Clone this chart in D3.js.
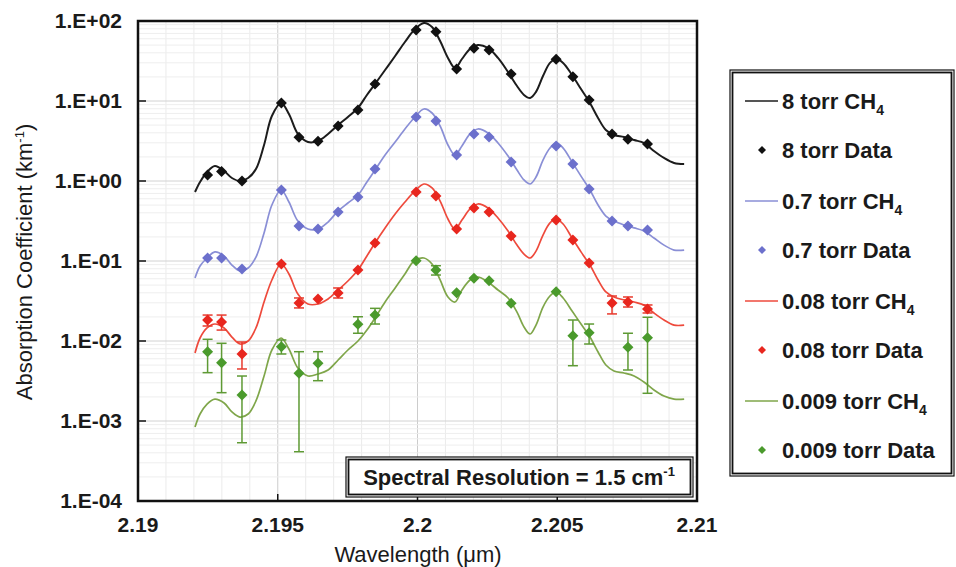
<!DOCTYPE html>
<html>
<head>
<meta charset="utf-8">
<title>CH4 absorption</title>
<script src="https://cdn.jsdelivr.net/npm/d3@7"></script>
<style>
  body { margin: 0; background: #fff; }
  svg text { font-family: "Liberation Sans", Arial, sans-serif; fill: #1a1a1a; }
  .tick-label { font-size: 21px; font-weight: bold; }
  .legend-label { font-size: 22px; font-weight: bold; }
  .axis-title { font-size: 22px; }
</style>
</head>
<body>
<script>
// model curves, wavelength in um
var wavelength = [2.19204, 2.19222, 2.19247, 2.19275, 2.19308, 2.19336, 2.19365, 2.19394, 2.19422, 2.19451,
  2.19479, 2.19512, 2.19540, 2.19572, 2.19608, 2.19644, 2.19680, 2.19716, 2.19751, 2.19787,
  2.19819, 2.19848, 2.19884, 2.19920, 2.19955, 2.19988, 2.20023, 2.20052, 2.20081, 2.20109,
  2.20134, 2.20159, 2.20188, 2.20216, 2.20252, 2.20288, 2.20324, 2.20356, 2.20381, 2.20403,
  2.20424, 2.20449, 2.20474, 2.20496, 2.20521, 2.20553, 2.20585, 2.20617, 2.20646, 2.20674,
  2.20703, 2.20739, 2.20775, 2.20810, 2.20846, 2.20882, 2.20918, 2.20954];

var model8 = [0.729, 0.972, 1.296, 1.54, 1.334, 1.09, 1.0, 1.09, 1.41, 2.82,
  6.49, 9.44, 6.88, 3.87, 3.07, 3.16, 3.87, 5.01, 6.31, 8.18,
  11.9, 16.3, 24.4, 36.5, 54.6, 77.2, 94.4, 84.1, 56.2, 34.5,
  25.8, 33.5, 44.7, 50.1, 46.0, 34.5, 23.0, 15.4, 11.9, 10.9,
  13.0, 20.5, 29.9, 33.5, 29.9, 21.1, 14.1, 9.44, 6.13, 4.34,
  3.76, 3.55, 3.25, 2.99, 2.37, 1.94, 1.68, 1.63];

var model07 = [0.0613, 0.0866, 0.109, 0.130, 0.1155, 0.0891, 0.075, 0.0818, 0.112, 0.224,
  0.501, 0.772, 0.546, 0.316, 0.251, 0.251, 0.307, 0.422, 0.531, 0.668,
  0.972, 1.37, 2.11, 3.07, 4.47, 6.13, 7.94, 7.08, 4.87, 2.82,
  2.11, 2.74, 3.87, 4.47, 3.98, 2.99, 2.05, 1.37, 1.03, 0.917,
  1.12, 1.83, 2.58, 2.99, 2.58, 1.73, 1.15, 0.772, 0.501, 0.365,
  0.316, 0.282, 0.259, 0.237, 0.194, 0.158, 0.137, 0.137];

var model008 = [0.00708, 0.0109, 0.01455, 0.0163, 0.01455, 0.0112, 0.00917, 0.0100, 0.01455, 0.0307,
  0.0579, 0.0917, 0.0688, 0.0387, 0.0290, 0.0290, 0.0335, 0.0434, 0.0562, 0.0772,
  0.1155, 0.168, 0.259, 0.387, 0.546, 0.729, 0.917, 0.818, 0.562, 0.335,
  0.251, 0.325, 0.447, 0.516, 0.460, 0.345, 0.237, 0.158, 0.122, 0.109,
  0.133, 0.211, 0.299, 0.335, 0.290, 0.194, 0.130, 0.0891, 0.0579, 0.0410,
  0.0355, 0.0326, 0.0307, 0.0282, 0.0224, 0.0183, 0.0158, 0.0158];

var model0009 = [0.000841, 0.001223, 0.00163, 0.00188, 0.00168, 0.0013, 0.00112, 0.001223, 0.00178, 0.00365,
  0.00772, 0.0109, 0.00794, 0.0046, 0.00365, 0.00387, 0.00434, 0.00579, 0.00772, 0.0100,
  0.0137, 0.0194, 0.0307, 0.046, 0.0688, 0.100, 0.109, 0.0917, 0.0579, 0.0355,
  0.0307, 0.0434, 0.0579, 0.0631, 0.0546, 0.0434, 0.0345, 0.0230, 0.0150, 0.01223,
  0.0158, 0.0266, 0.0365, 0.0410, 0.0345, 0.0237, 0.0163, 0.0112, 0.00729, 0.00501,
  0.00422, 0.00398, 0.00365, 0.00307, 0.00244, 0.00205, 0.00188, 0.00188];

// measured points
var dataWavelength = [2.19249, 2.19299, 2.19372, 2.19513, 2.19576, 2.19644, 2.19716, 2.19787, 2.19848, 2.19995,
  2.20066, 2.20140, 2.20202, 2.20256, 2.20335, 2.20496, 2.20556, 2.20614, 2.20696, 2.20753, 2.20823];

var data8 = [1.19, 1.31, 1.00, 9.44, 3.52, 3.13, 4.87, 7.72, 16.3, 77.2,
  73.5, 25.1, 45.6, 43.4, 21.8, 33.2, 20.1, 10.3, 3.87, 3.32, 2.90];
var data07 = [0.109, 0.109, 0.0794, 0.772, 0.274, 0.251, 0.410, 0.631, 1.41, 6.31,
  5.62, 2.11, 3.87, 3.55, 1.73, 2.74, 1.63, 0.794, 0.316, 0.274, 0.244];
var data008 = [0.0183, 0.0173, 0.00688, 0.0917, 0.0299, 0.0335, 0.0398, 0.0772, 0.168, 0.729,
  0.649, 0.251, 0.460, 0.410, 0.205, 0.325, 0.183, 0.0944, 0.0299, 0.0307, 0.0251];
var err008Hi = [0.0211, 0.0211, 0.00972, null, 0.0345, null, 0.046, null, null, null,
  null, null, null, null, null, null, null, null, 0.0365, 0.0355, 0.0282];
var err008Lo = [0.0154, 0.0137, 0.00447, null, 0.0259, null, 0.0345, null, null, null,
  null, null, null, null, null, null, null, null, 0.0218, 0.0266, 0.0224];
var data0009 = [0.00735, 0.00535, 0.00211, 0.00849, 0.00395, 0.00526, null, 0.0162, 0.0211, 0.101,
  0.0772, 0.0402, 0.0608, 0.0567, 0.0296, 0.0413, 0.01165, 0.0127, null, 0.00834, 0.0110];
var err0009Hi = [0.0105, 0.00936, 0.00365, 0.0103, 0.00735, 0.00735, null, 0.0201, 0.0256, null,
  0.0873, null, null, null, null, null, 0.0183, 0.0163, null, 0.0125, 0.0198];
var err0009Lo = [0.00402, 0.00226, 0.000535, 0.00688, 0.000413, 0.00319, null, 0.0125, 0.0163, null,
  0.0668, null, null, null, null, null, 0.00491, 0.00917, null, 0.00434, 0.00222];

var xTicks = [2.19, 2.195, 2.2, 2.205, 2.21];
var xTickLabels = ["2.19", "2.195", "2.2", "2.205", "2.21"];
var yTicks = [1e2, 1e1, 1e0, 1e-1, 1e-2, 1e-3, 1e-4];
var yTickLabels = ["1.E+02", "1.E+01", "1.E+00", "1.E-01", "1.E-02", "1.E-03", "1.E-04"];

var seriesNames = ["8 torr", "0.7 torr", "0.08 torr", "0.009 torr"];
var lineColors = ["#1c1c1c", "#8a8fd6", "#ee4a3c", "#7fa64a"];
var dotColors = ["#111111", "#6c70cc", "#e8261e", "#4a9a2c"];

var width = 956, height = 567;
var svg = d3.select("body").append("svg")
  .attr("width", width)
  .attr("height", height);

var xScale = d3.scaleLinear().domain([2.19, 2.21]).range([138, 697]);
var yScale = d3.scaleLog().domain([1e-4, 1e2]).range([501, 21]);

// grid
var grid = svg.append("g");
d3.range(2.19, 2.2105, 0.001).forEach(function(w, i) {
  grid.append("line")
    .attr("x1", xScale(w)).attr("x2", xScale(w))
    .attr("y1", 21).attr("y2", 501)
    .attr("stroke", i % 5 == 0 ? "#cccccc" : "#ebebeb")
    .attr("stroke-width", 1);
});
yScale.ticks().forEach(function(v) {
  var major = Math.abs(Math.log10(v) - Math.round(Math.log10(v))) < 1e-6;
  grid.append("line")
    .attr("x1", 138).attr("x2", 697)
    .attr("y1", yScale(v)).attr("y2", yScale(v))
    .attr("stroke", major ? "#d2d2d2" : "#eeeeee")
    .attr("stroke-width", 1);
});

// model lines
var models = [model8, model07, model008, model0009];
var line = d3.line()
  .x(function(d) { return xScale(d[0]); })
  .y(function(d) { return yScale(d[1]); })
  .curve(d3.curveCatmullRom);

models.forEach(function(m, k) {
  svg.append("path")
    .datum(d3.zip(wavelength, m))
    .attr("fill", "none")
    .attr("stroke", lineColors[k])
    .attr("stroke-width", k == 0 ? 2 : 1.7)
    .attr("d", line);
});

// error bars
function drawErrors(vals, lo, hi, color) {
  var g = svg.append("g").attr("stroke", color).attr("stroke-width", 1.5);
  dataWavelength.forEach(function(w, i) {
    if (vals[i] == null || lo[i] == null) return;
    var x = xScale(w);
    g.append("line").attr("x1", x).attr("x2", x).attr("y1", yScale(lo[i])).attr("y2", yScale(hi[i]));
    g.append("line").attr("x1", x - 5).attr("x2", x + 5).attr("y1", yScale(lo[i])).attr("y2", yScale(lo[i]));
    g.append("line").attr("x1", x - 5).attr("x2", x + 5).attr("y1", yScale(hi[i])).attr("y2", yScale(hi[i]));
  });
}
drawErrors(data008, err008Lo, err008Hi, "#e8392c");
drawErrors(data0009, err0009Lo, err0009Hi, "#5e9a34");

// data diamonds
var diamond = function(r) { return "M0," + (-r) + "L" + r + ",0L0," + r + "L" + (-r) + ",0Z"; };
var datas = [data8, data07, data008, data0009];
datas.forEach(function(vals, k) {
  svg.append("g").selectAll("path")
    .data(d3.zip(dataWavelength, vals).filter(function(d) { return d[1] != null; }))
    .enter()
    .append("path")
    .attr("d", diamond(5.5))
    .attr("fill", dotColors[k])
    .attr("transform", function(d) { return "translate(" + xScale(d[0]) + "," + yScale(d[1]) + ")"; });
});

// frame + ticks
svg.append("rect")
  .attr("x", 138).attr("y", 21).attr("width", 559).attr("height", 480)
  .attr("fill", "none").attr("stroke", "#111").attr("stroke-width", 2.5);

yTicks.forEach(function(v, i) {
  svg.append("line")
    .attr("x1", 138).attr("x2", 146)
    .attr("y1", yScale(v)).attr("y2", yScale(v))
    .attr("stroke", "#111").attr("stroke-width", 1.5);
  svg.append("text")
    .attr("class", "tick-label")
    .attr("x", 122)
    .attr("y", yScale(v) + 7)
    .style("text-anchor", "end")
    .text(yTickLabels[i]);
});
xTicks.forEach(function(w, i) {
  svg.append("line")
    .attr("x1", xScale(w)).attr("x2", xScale(w))
    .attr("y1", 501).attr("y2", 494)
    .attr("stroke", "#111").attr("stroke-width", 1.5);
  svg.append("text")
    .attr("class", "tick-label")
    .attr("x", xScale(w))
    .attr("y", 532)
    .style("text-anchor", "middle")
    .text(xTickLabels[i]);
});

// axis titles
svg.append("text")
  .attr("class", "axis-title")
  .attr("x", 418).attr("y", 562)
  .style("text-anchor", "middle")
  .text("Wavelength (\u03bcm)");

var yt = svg.append("text")
  .attr("class", "axis-title")
  .attr("transform", "translate(32,262) rotate(-90)")
  .style("text-anchor", "middle");
yt.append("tspan").text("Absorption Coefficient (km");
yt.append("tspan").attr("dy", -8).style("font-size", "13px").text("-1");
yt.append("tspan").attr("dy", 8).text(")");

// spectral resolution box
svg.append("rect")
  .attr("x", 346).attr("y", 457).attr("width", 347).attr("height", 40)
  .attr("fill", "#fff").attr("stroke", "#111").attr("stroke-width", 1.2);
svg.append("rect")
  .attr("x", 348.5).attr("y", 459.5).attr("width", 342).attr("height", 35)
  .attr("fill", "none").attr("stroke", "#111").attr("stroke-width", 1.8);
var sr = svg.append("text")
  .attr("class", "legend-label")
  .attr("x", 519).attr("y", 485)
  .style("text-anchor", "middle");
sr.append("tspan").text("Spectral Resolution = 1.5 cm");
sr.append("tspan").attr("dy", -9).style("font-size", "13px").text("-1");

// legend
svg.append("rect")
  .attr("x", 730).attr("y", 70).attr("width", 224).attr("height", 406)
  .attr("fill", "#fff").attr("stroke", "#111").attr("stroke-width", 1.2);
svg.append("rect")
  .attr("x", 732.5).attr("y", 72.5).attr("width", 219).attr("height", 401)
  .attr("fill", "none").attr("stroke", "#111").attr("stroke-width", 1.8);

seriesNames.forEach(function(name, k) {
  var yl = 101 + k * 100;
  var yd = yl + 49;
  svg.append("line")
    .attr("x1", 745).attr("x2", 778)
    .attr("y1", yl).attr("y2", yl)
    .attr("stroke", lineColors[k]).attr("stroke-width", 1.5);
  var t = svg.append("text").attr("class", "legend-label").attr("x", 782).attr("y", yl + 8);
  t.append("tspan").text(name + " CH");
  t.append("tspan").attr("dy", 6).style("font-size", "14px").text("4");

  svg.append("path")
    .attr("d", diamond(4))
    .attr("fill", dotColors[k])
    .attr("transform", "translate(762," + yd + ")");
  svg.append("text").attr("class", "legend-label").attr("x", 782).attr("y", yd + 8)
    .text(name + " Data");
});
</script>
</body>
</html>
